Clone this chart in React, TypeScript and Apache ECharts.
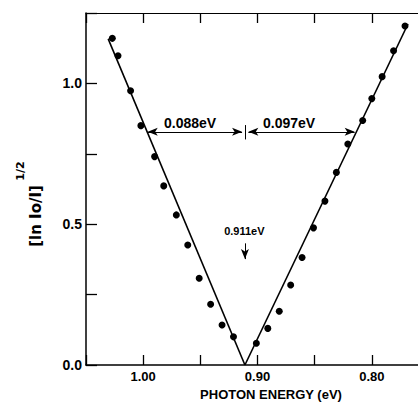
import React, { useEffect, useRef } from "react";
import * as echarts from "echarts";

// Measured points (photon energy in eV, [ln Io/I]^1/2)
const leftEnergy = [1.027, 1.022, 1.011, 1.002, 0.990, 0.982, 0.971, 0.961, 0.951, 0.941, 0.931, 0.921];
const leftValue = [1.160, 1.098, 0.974, 0.850, 0.740, 0.636, 0.533, 0.426, 0.308, 0.216, 0.142, 0.100];
const rightEnergy = [0.901, 0.891, 0.881, 0.871, 0.861, 0.851, 0.841, 0.831, 0.821, 0.808, 0.800, 0.791, 0.781, 0.771];
const rightValue = [0.077, 0.130, 0.191, 0.284, 0.382, 0.487, 0.582, 0.684, 0.785, 0.868, 0.946, 1.024, 1.116, 1.204];

// Fitted straight lines
const leftFitEnergy = [1.0306, 0.911];
const leftFitValue = [1.158, 0];
const rightFitEnergy = [0.911, 0.7684];
const rightFitValue = [0, 1.211];

// Annotations
const vertexEnergy = 0.911;
const arrowValue = 0.828;
const leftArrowEnergy = [0.996, 0.9135];
const rightArrowEnergy = [0.908, 0.815];
const centerTickValue = [0.852, 0.801];
const downArrowValue = [0.432, 0.376];
const labelLeft = { text: "0.088eV", energy: 0.959, value: 0.861 };
const labelRight = { text: "0.097eV", energy: 0.8724, value: 0.861 };
const labelVertex = { text: "0.911eV", energy: 0.9115, value: 0.476 };

const xTickLabels = ["1.00", "0.90", "0.80"];
const yTickLabels = ["0.0", "0.5", "1.0"];

const FONT = "'Liberation Sans', Arial, sans-serif";

export default function App() {
  const ref = useRef<HTMLDivElement>(null);
  useEffect(() => {
    if (!ref.current) return;
    const chart = echarts.init(ref.current, null, { renderer: "svg" });
    const zip = (a: number[], b: number[]) => a.map((v, i) => [v, b[i]]);
    const textLabel = (l: { text: string; energy: number; value: number }, size: number) => ({
      coord: [l.energy, l.value],
      symbol: "circle",
      symbolSize: 0,
      label: {
        show: true,
        position: "inside",
        formatter: l.text,
        color: "#000",
        fontFamily: FONT,
        fontWeight: "bold",
        fontSize: size,
      },
    });
    chart.setOption({
      animation: false,
      backgroundColor: "#fff",
      grid: {
        left: 86,
        top: 13,
        width: 343,
        height: 352,
        containLabel: false,
        outerBoundsMode: "none",
      },
      xAxis: [
        {
          type: "value",
          min: 0.75,
          max: 1.05,
          interval: 0.05,
          inverse: true,
          position: "bottom",
          axisLine: { show: true, lineStyle: { color: "#000", width: 1.5 } },
          axisTick: { show: true, inside: true, length: 10, lineStyle: { color: "#000", width: 1.3 } },
          axisLabel: {
            margin: 5,
            color: "#000",
            fontFamily: FONT,
            fontWeight: "bold",
            fontSize: 13,
            formatter: (v: number) => {
              const s = v.toFixed(2);
              return xTickLabels.includes(s) ? s : "";
            },
          },
          splitLine: { show: false },
        },
        {
          type: "value",
          min: 0.75,
          max: 1.05,
          interval: 0.05,
          inverse: true,
          position: "top",
          axisLine: { show: true, lineStyle: { color: "#000", width: 1.2 } },
          axisTick: { show: true, inside: true, length: 10, lineStyle: { color: "#000", width: 1.3 } },
          axisLabel: { show: false },
          splitLine: { show: false },
        },
      ],
      yAxis: {
        type: "value",
        min: 0,
        max: 1.25,
        interval: 0.25,
        axisLine: { show: true, lineStyle: { color: "#000", width: 1.5 } },
        axisTick: { show: true, inside: true, length: 11, lineStyle: { color: "#000", width: 1.3 } },
        axisLabel: {
          margin: 4,
          color: "#000",
          fontFamily: FONT,
          fontWeight: "bold",
          fontSize: 14,
          formatter: (v: number) => {
            const s = v.toFixed(1);
            return yTickLabels.includes(s) && Math.abs(v * 2 - Math.round(v * 2)) < 1e-6 ? s : "";
          },
        },
        splitLine: { show: false },
      },
      graphic: [
        {
          type: "text",
          x: 36,
          y: 216,
          rotation: Math.PI / 2,
          style: {
            text: "[ln Io/I]",
            fill: "#000",
            font: "bold 15px 'DejaVu Sans', sans-serif",
            textAlign: "center",
            textVerticalAlign: "middle",
          },
        },
        {
          type: "text",
          x: 20,
          y: 171,
          rotation: Math.PI / 2,
          style: {
            text: "1/2",
            fill: "#000",
            font: "bold 11px 'DejaVu Sans', sans-serif",
            textAlign: "center",
            textVerticalAlign: "middle",
          },
        },
        {
          type: "text",
          x: 271,
          y: 394,
          style: {
            text: "PHOTON ENERGY (eV)",
            fill: "#000",
            font: "bold 13px 'Liberation Sans', Arial, sans-serif",
            textAlign: "center",
            textVerticalAlign: "middle",
          },
        },
      ],
      series: [
        {
          type: "line",
          data: zip(leftFitEnergy, leftFitValue),
          symbol: "none",
          lineStyle: { color: "#000", width: 1.6 },
          markLine: {
            silent: true,
            symbol: ["arrow", "arrow"],
            symbolSize: [6, 10],
            lineStyle: { color: "#000", width: 1, type: "solid" },
            label: { show: false },
            data: [
              [
                { coord: [leftArrowEnergy[0], arrowValue] },
                { coord: [leftArrowEnergy[1], arrowValue] },
              ],
              [
                { coord: [rightArrowEnergy[0], arrowValue] },
                { coord: [rightArrowEnergy[1], arrowValue] },
              ],
              [
                { coord: [vertexEnergy, centerTickValue[0]], symbol: "none" },
                { coord: [vertexEnergy, centerTickValue[1]], symbol: "none" },
              ],
              [
                { coord: [vertexEnergy, downArrowValue[0]], symbol: "none" },
                { coord: [vertexEnergy, downArrowValue[1]], symbol: "arrow" },
              ],
            ],
          },
          markPoint: {
            silent: true,
            data: [textLabel(labelLeft, 14), textLabel(labelRight, 14), textLabel(labelVertex, 11)],
          },
        },
        {
          type: "line",
          data: zip(rightFitEnergy, rightFitValue),
          symbol: "none",
          lineStyle: { color: "#000", width: 1.6 },
        },
        {
          type: "scatter",
          data: zip(leftEnergy, leftValue),
          symbol: "circle",
          symbolSize: 7,
          itemStyle: { color: "#000", opacity: 1 },
        },
        {
          type: "scatter",
          data: zip(rightEnergy, rightValue),
          symbol: "circle",
          symbolSize: 7,
          itemStyle: { color: "#000", opacity: 1 },
        },
      ],
    });
    return () => chart.dispose();
  }, []);
  return (
    <div
      ref={ref}
      style={{ position: "fixed", left: 0, top: 0, width: 418, height: 402, background: "#fff" }}
    />
  );
}
